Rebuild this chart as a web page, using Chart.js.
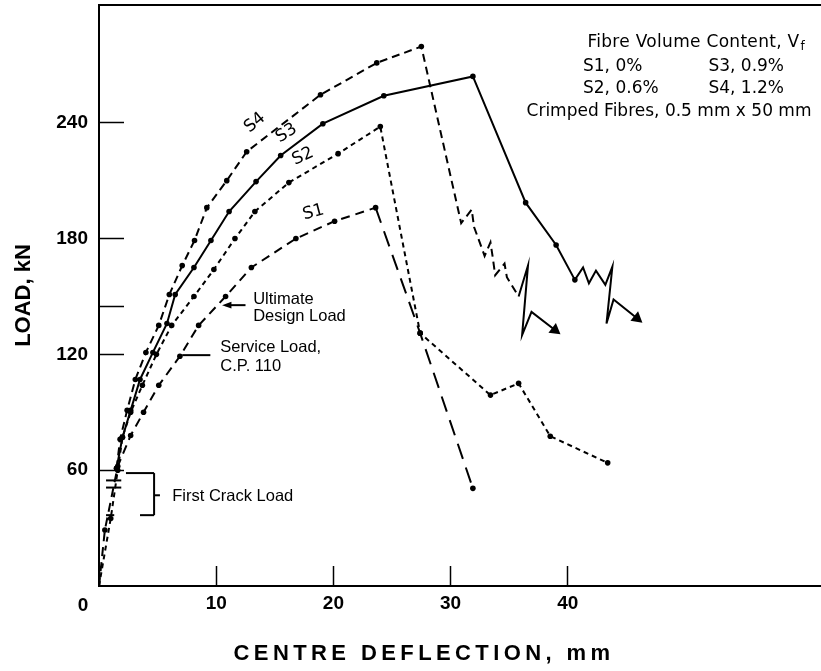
<!DOCTYPE html>
<html>
<head>
<meta charset="utf-8">
<script src="https://cdn.jsdelivr.net/npm/chart.js@4.4.1/dist/chart.umd.min.js"></script>
<style>
  html, body { margin: 0; padding: 0; background: #fff; }
  #wrap { width: 821px; height: 671px; }
</style>
</head>
<body>
<div id="wrap"><canvas id="grafico" width="821" height="671"></canvas></div>
<script>
// centre deflection (mm) / load (kN)
var s1X = [0, 0.5, 1.6, 2.7, 3.8, 5.1, 6.9, 8.5, 10.8, 13.0, 16.8, 20.1, 23.6, 27.4, 31.9];
var s1Y = [0, 29, 62, 78, 90, 104, 119, 135, 150, 165, 180, 189, 196, 131, 50.6];

var s2X = [0, 1.0, 1.6, 2.0, 2.7, 3.7, 4.9, 6.2, 8.1, 9.8, 11.6, 13.3, 16.2, 20.4, 24.0, 27.4, 33.4, 35.8, 38.5, 43.4];
var s2Y = [0, 35, 60, 77, 90, 104, 120, 135, 150, 164, 180, 194, 209, 224, 238, 131, 98.9, 105, 77.6, 63.8];

var s3X = [1.5, 2.0, 2.7, 3.5, 4.6, 5.8, 6.5, 8.1, 9.55, 11.1, 13.4, 15.5, 19.1, 24.3, 31.9, 36.4, 39.0, 40.6];
var s3Y = [61, 77, 91, 107, 121, 136, 151, 165, 179, 194, 209.5, 223, 239.5, 254, 264, 198.6, 176.7, 158.6];
// jagged trace after failure, no readings on it
var s3TraceX = [41.3, 41.8, 42.4, 43.2, 43.8, 43.3, 43.9, 45.9];
var s3TraceY = [165, 156.8, 163.4, 156, 165.5, 136, 148.5, 138.7];

var s4X = [1.5, 1.8, 2.4, 3.1, 4.0, 5.1, 6.0, 7.1, 8.15, 9.2, 10.9, 12.6, 18.9, 23.7, 27.5];
var s4Y = [61, 76, 91, 107, 121, 135, 151, 166, 179, 196, 210, 225, 254.5, 271, 279.5];
var s4TraceX = [30.9, 31.8, 32.0, 32.9, 33.4, 33.6, 33.8, 34.6, 34.8, 35.8, 36.6, 36.1, 36.9, 38.9];
var s4TraceY = [188, 195, 186, 171, 178, 170, 161, 167, 160, 150, 166, 130, 142, 132.6];

var xTickVals = [0, 10, 20, 30, 40];
var yTickVals = [60, 120, 145, 180, 240]; // 145 = unlabelled mark

// curve names: text, deflection, load, angle
var curveNames = [
    ['S4', 13.3, 240, -40],
    ['S3', 16.0, 234.5, -32],
    ['S2', 17.4, 222.5, -25],
    ['S1', 18.3, 193.5, -15]
];

var fontTick = { family: 'Liberation Sans', weight: 'bold', size: 19 };
var fontTitle = { family: 'Liberation Sans', weight: 'bold', size: 22 };

function punti(xs, ys) {
    return xs.map(function (x, i) { return { x: x, y: ys[i] }; });
}

function picco(ys) {
    return ys.indexOf(Math.max.apply(null, ys));
}

function angoloFreccia(ctx) {
    var d = ctx.dataset.data, i = ctx.dataIndex;
    if (i !== d.length - 1) return 0;
    var sx = ctx.chart.scales.x, sy = ctx.chart.scales.y;
    var dx = sx.getPixelForValue(d[i].x) - sx.getPixelForValue(d[i - 1].x);
    var dy = sy.getPixelForValue(d[i].y) - sy.getPixelForValue(d[i - 1].y);
    return Math.atan2(dy, dx) * 180 / Math.PI + 90;
}

function serieFreccia(label, xs, ys, tx, ty, dash, solidTail) {
    var nMis = xs.length;
    var data = punti(xs.concat(tx), ys.concat(ty));
    return {
        label: label,
        data: data,
        borderColor: '#000',
        backgroundColor: '#000',
        borderWidth: 2,
        pointBorderWidth: 0,
        borderDash: dash,
        segment: {
            borderDash: function (ctx) {
                return ctx.p0DataIndex >= data.length - 1 - solidTail ? [] : dash;
            }
        },
        pointStyle: function (ctx) { return ctx.dataIndex === data.length - 1 ? 'triangle' : 'circle'; },
        pointRadius: function (ctx) {
            if (ctx.dataIndex === data.length - 1) return 7;
            return ctx.dataIndex < nMis ? 2.8 : 0;
        },
        pointRotation: angoloFreccia
    };
}

var ds1 = {
    label: 'S1',
    data: punti(s1X, s1Y),
    borderColor: '#000', backgroundColor: '#000', borderWidth: 2, pointBorderWidth: 0,
    pointRadius: function (ctx) { return ctx.dataIndex === 0 ? 0 : 2.8; },
    borderDash: [9, 6],
    segment: { borderDash: function (ctx) { return ctx.p0DataIndex >= picco(s1Y) ? [16, 9] : [9, 6]; } }
};
var ds2 = {
    label: 'S2',
    data: punti(s2X, s2Y),
    borderColor: '#000', backgroundColor: '#000', borderWidth: 2, pointBorderWidth: 0,
    pointRadius: function (ctx) { return ctx.dataIndex === 0 ? 0 : 2.8; },
    borderDash: [5, 4]
};
var ds3 = serieFreccia('S3', s3X, s3Y, s3TraceX, s3TraceY, [], 0);
var ds4 = serieFreccia('S4', s4X, s4Y, s4TraceX, s4TraceY, [8, 5], 4);

function scriviTesto(c, t, x, y, font, align, spacing) {
    c.font = font;
    c.letterSpacing = spacing || '0px';
    c.textAlign = align || 'left';
    c.textBaseline = 'middle';
    c.fillText(t, x, y);
    c.letterSpacing = '0px';
}

var extras = {
    id: 'extras',
    afterDraw: function (chart) {
        var c = chart.ctx, a = chart.chartArea;
        var sx = chart.scales.x, sy = chart.scales.y;
        function px(v) { return sx.getPixelForValue(v); }
        function py(v) { return sy.getPixelForValue(v); }
        function linea(x1, y1, x2, y2) {
            c.beginPath(); c.moveTo(px(x1), py(y1)); c.lineTo(px(x2), py(y2)); c.stroke();
        }
        c.save();
        c.strokeStyle = '#000';
        c.fillStyle = '#000';

        // frame on top
        c.lineWidth = 2;
        c.beginPath(); c.moveTo(a.left, a.top); c.lineTo(a.right, a.top); c.stroke();

        // origin label and x title
        scriviTesto(c, '0', a.left - 16, a.bottom + 20, 'bold 19px "Liberation Sans"', 'center');
        scriviTesto(c, 'CENTRE DEFLECTION, mm', 424, a.bottom + 68, 'bold 22px "Liberation Sans"', 'center', '4.4px');

        // curve names
        curveNames.forEach(function (n) {
            c.save();
            c.translate(px(n[1]), py(n[2]));
            c.rotate(n[3] * Math.PI / 180);
            scriviTesto(c, n[0], 0, 0, '17px "DejaVu Sans"', 'center');
            c.restore();
        });

        var fa = '16.5px "Liberation Sans"';
        // ultimate design load
        c.lineWidth = 2;
        linea(10.8, 145.5, 12.5, 145.5);
        c.beginPath();
        c.moveTo(px(10.5), py(145.5));
        c.lineTo(px(11.3), py(147.2));
        c.lineTo(px(11.3), py(143.8));
        c.closePath(); c.fill();
        scriviTesto(c, 'Ultimate', px(13.15), py(148.7), fa);
        scriviTesto(c, 'Design Load', px(13.15), py(139.4), fa);

        // service load
        linea(7.1, 119.6, 9.5, 119.6);
        scriviTesto(c, 'Service Load,', px(10.35), py(123.7), fa);
        scriviTesto(c, 'C.P. 110', px(10.35), py(114), fa);

        // first crack load bracket
        linea(2.3, 58.5, 4.7, 58.5);
        linea(3.5, 36.7, 4.7, 36.7);
        linea(4.7, 58.5, 4.7, 36.7);
        linea(4.7, 47, 5.2, 47);
        linea(0.6, 54.7, 1.9, 54.7);
        linea(0.6, 51, 1.9, 51);
        linea(0.6, 36.7, 1.3, 36.7);
        scriviTesto(c, 'First Crack Load', px(6.25), py(46.5), fa);

        // fibre content note
        var f = '17px "DejaVu Sans"';
        c.font = f;
        var t1 = 'Fibre Volume Content, V';
        var w1 = c.measureText(t1).width;
        var x0 = 694 - (w1 + 8) / 2;
        scriviTesto(c, t1, x0, 43, f, 'left', '0.3px');
        scriviTesto(c, 'f', x0 + w1 + 8, 47, '12px "DejaVu Sans"');
        scriviTesto(c, 'S1, 0%', 583, 67, f);
        scriviTesto(c, 'S3, 0.9%', 784, 67, f, 'right');
        scriviTesto(c, 'S2, 0.6%', 583, 89, f);
        scriviTesto(c, 'S4, 1.2%', 784, 89, f, 'right');
        scriviTesto(c, 'Crimped Fibres, 0.5 mm x 50 mm', 669, 112, f, 'center');

        c.restore();
    }
};

var ctx = document.getElementById('grafico');
var chart = new Chart(ctx, {
    type: 'line',
    data: { datasets: [ds1, ds2, ds3, ds4] },
    options: {
        responsive: false,
        animation: false,
        devicePixelRatio: 1,
        layout: { autoPadding: false, padding: { top: 5, right: 0, bottom: 0, left: 0 } },
        plugins: { legend: { display: false }, tooltip: { enabled: false } },
        elements: { line: { tension: 0 } },
        scales: {
            x: {
                type: 'linear', min: 0, max: 61.6,
                afterBuildTicks: function (s) { s.ticks = xTickVals.map(function (v) { return { value: v }; }); },
                afterFit: function (s) { s.height = 85; s.paddingLeft = 0; s.paddingRight = 0; },
                grid: { drawOnChartArea: false, drawTicks: true, tickLength: -20, tickWidth: 1.5, tickColor: '#000' },
                border: { display: true, color: '#000', width: 2 },
                ticks: {
                    color: '#000', font: fontTick, padding: 26, maxRotation: 0, autoSkip: false,
                    callback: function (v) { return v === 0 ? '' : v; }
                }
            },
            y: {
                type: 'linear', min: 0, max: 301,
                afterBuildTicks: function (s) { s.ticks = yTickVals.map(function (v) { return { value: v }; }); },
                afterFit: function (s) { s.width = 99; s.paddingTop = 0; s.paddingBottom = 0; },
                grid: { drawOnChartArea: false, drawTicks: true, tickLength: -25, tickWidth: 1.5, tickColor: '#000' },
                border: { display: true, color: '#000', width: 2 },
                ticks: {
                    color: '#000', font: fontTick, padding: 36, autoSkip: false,
                    callback: function (v) { return v === 145 ? '' : v; }
                },
                title: { display: true, text: 'LOAD, kN', color: '#000', font: fontTitle, padding: { top: 11, bottom: 0 } }
            }
        }
    },
    plugins: [extras]
});
</script>
</body>
</html>
